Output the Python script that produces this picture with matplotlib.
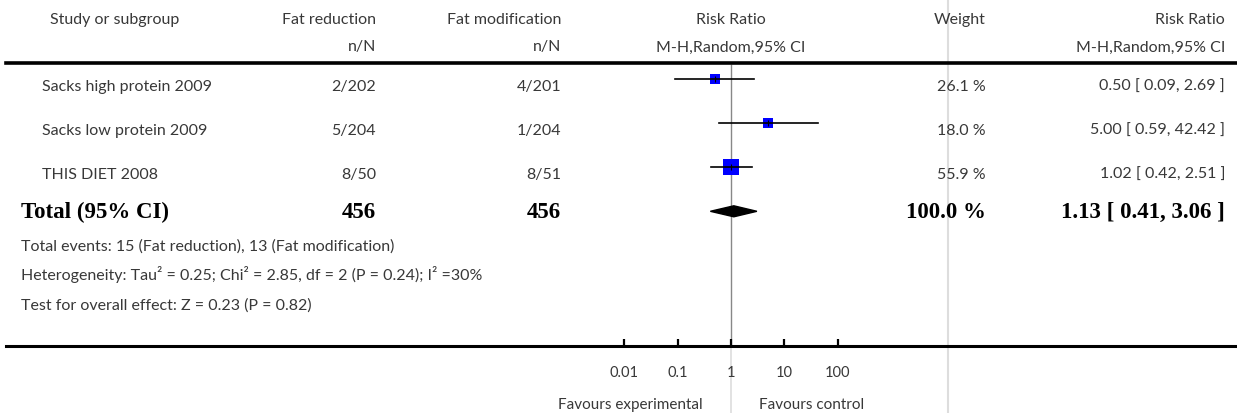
import numpy as np
import matplotlib.pyplot as plt
from matplotlib import transforms
from matplotlib.lines import Line2D
from matplotlib.patches import Polygon

# data
studies = ['Sacks high protein 2009', 'Sacks low protein 2009', 'THIS DIET 2008']
exp_nN = ['2/202', '5/204', '8/50']
ctl_nN = ['4/201', '1/204', '8/51']
rr = [0.50, 5.00, 1.02]
rr_lo = [0.09, 0.59, 0.42]
rr_hi = [2.69, 42.42, 2.51]
weights = [26.1, 18.0, 55.9]

total_exp = 456
total_ctl = 456
total_rr, total_lo, total_hi = 1.13, 0.41, 3.06
total_weight = 100.0

footnotes = ['Total events: 15 (Fat reduction), 13 (Fat modification)',
             'Heterogeneity: Tau² = 0.25; Chi² = 2.85, df = 2 (P = 0.24); I² =30%',
             'Test for overall effect: Z = 0.23 (P = 0.82)']

ticks = [0.01, 0.1, 1, 10, 100]
tick_labels = ['0.01', '0.1', '1', '10', '100']

W, H = 1237, 414
ROW0, STEP = 80.3, 44.0   # pixel y of first study row, row spacing

def py(y):
    # pixel y -> row units of the forest axes
    return (y - ROW0) / STEP

TXT = '#383838'
SANS = 'Lato'
SERIF = 'Liberation Serif'
FS = 11.5
BFS = 16.5

fig = plt.figure(figsize=(W / 100, H / 100), dpi=100)
ax = fig.add_axes([571 / W, 0, 320 / W, 1])
ax.set_xscale('log')
ax.set_xlim(1e-3, 1e3)
ax.set_ylim(py(H), py(0))
ax.axis('off')

tr = transforms.blended_transform_factory(fig.transFigure, ax.transData)
trx = transforms.blended_transform_factory(ax.transData, fig.transFigure)

def ftext(x, y, s, ha='left', bold=False, **kw):
    if bold:
        ax.text(x / W, y, s, transform=tr, ha=ha, va='baseline', fontsize=BFS,
                family=SERIF, fontweight='bold', color='black', **kw)
    else:
        ax.text(x / W, y, s, transform=tr, ha=ha, va='baseline', fontsize=FS,
                family=SANS, color=TXT, **kw)

# header
for yb, row in [(24.5, ['Study or subgroup', 'Fat reduction', 'Fat modification', 'Weight', 'Risk Ratio']),
                (51.5, ['', 'n/N', 'n/N', '', 'M-H,Random,95% CI'])]:
    ftext(50, py(yb), row[0])
    ftext(376, py(yb), row[1], ha='right')
    ftext(561, py(yb), row[2], ha='right')
    ftext(986, py(yb), row[3], ha='right')
    ftext(1225, py(yb), row[4], ha='right')
ax.text(1, 1 - 24.5 / H, 'Risk Ratio', transform=trx, ha='center', va='baseline',
        fontsize=FS, family=SANS, color=TXT)
ax.text(1, 1 - 51.5 / H, 'M-H,Random,95% CI', transform=trx, ha='center', va='baseline',
        fontsize=FS, family=SANS, color=TXT)

# rules and guide lines
fig.add_artist(Line2D([6 / W, 1], [1 - 63.5 / H] * 2, color='black', lw=2.6))
fig.add_artist(Line2D([6 / W, 1], [1 - 346.5 / H] * 2, color='black', lw=2.2))
fig.add_artist(Line2D([948 / W] * 2, [0, 1], color='#dddddd', lw=1.5, zorder=0))
ax.vlines(1, py(65), py(346), color='#888888', lw=1.0, zorder=1)
ax.vlines(1, py(348), py(H), color='#dddddd', lw=1.2, zorder=1)
ax.vlines(ticks, py(346), py(340), color='black', lw=1.6)

# studies
offs = 11.0 / STEP
for i in range(len(studies)):
    ax.plot([rr_lo[i], rr_hi[i]], [i, i], color='black', lw=1.2, zorder=3)
    ax.plot(rr[i], i, marker='s', color='#0000ff', markersize=1.55 * np.sqrt(weights[i]),
            markeredgewidth=0, zorder=2)
    ax.plot(rr[i], i, marker='|', color='black', markersize=4, markeredgewidth=0.8, zorder=4)
    ftext(42, i + offs, studies[i])
    ftext(376, i + offs, exp_nN[i], ha='right')
    ftext(561, i + offs, ctl_nN[i], ha='right')
    ftext(986, i + offs, '%.1f %%' % weights[i], ha='right')
    ftext(1225, i + offs, '%.2f [ %.2f, %.2f ]' % (rr[i], rr_lo[i], rr_hi[i]), ha='right')

# total
it = len(studies)
h = 5.5 / STEP
ax.add_patch(Polygon([(total_lo, it), (total_rr, it - h), (total_hi, it), (total_rr, it + h)],
                     closed=True, color='black', zorder=3))
tb = it + 5.5 / STEP
ftext(21, tb, 'Total (95% CI)', bold=True)
ftext(376, tb, str(total_exp), ha='right', bold=True)
ftext(561, tb, str(total_ctl), ha='right', bold=True)
ftext(986, tb, '%.1f %%' % total_weight, ha='right', bold=True)
ftext(1225, tb, '%.2f [ %.2f, %.2f ]' % (total_rr, total_lo, total_hi), ha='right', bold=True)

for k, s in enumerate(footnotes):
    ftext(21, py(251 + 29.5 * k), s)

# axis labels
for t, lab in zip(ticks, tick_labels):
    ax.text(t, py(377), lab, ha='center', va='baseline', fontsize=10.5, family=SANS, color=TXT)
ax.text(0.30, py(409), 'Favours experimental', ha='right', va='baseline', fontsize=11,
        family=SANS, color=TXT)
ax.text(3.35, py(409), 'Favours control', ha='left', va='baseline', fontsize=11,
        family=SANS, color=TXT)

fig.savefig('out.png', dpi=100)
